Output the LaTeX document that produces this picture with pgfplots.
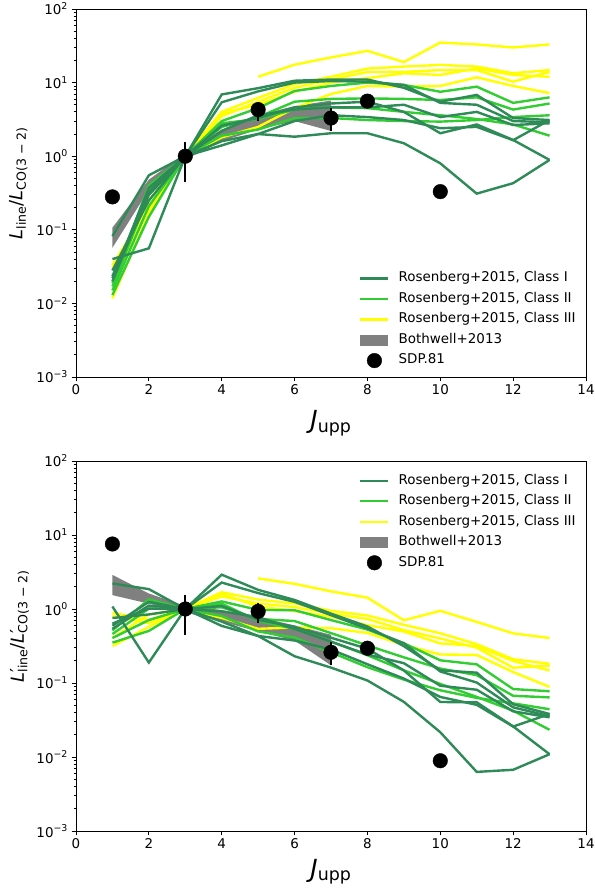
\documentclass[border=0pt]{standalone}
\usepackage{fontspec}
\setmainfont{DejaVu Sans}
\usepackage{pgfplots}
\usepackage{pgfplotstable}
\pgfplotsset{compat=1.18}

\definecolor{classI}{HTML}{2E8B57}
\definecolor{classII}{HTML}{32CD32}
\definecolor{classIII}{HTML}{FFFF00}
\definecolor{bandgray}{HTML}{808080}

\newcommand{\decade}[1]{10\textsuperscript{#1}}

% legend swatches: long line, filled patch, single centred dot
\pgfplotsset{
  long line legend/.style={legend image code/.code={\draw[##1] (0bp,0bp) -- (28bp,0bp);}},
  patch legend/.style={legend image code/.code={\fill[##1] (0bp,-5.5bp) rectangle (28bp,5.5bp);}},
  dot legend/.style={legend image code/.code={\draw[##1] plot coordinates {(14bp,0bp)};}},
}

% CO ladders normalised to CO(3-2): luminosity ratios L_line/L_CO(3-2)
% a* = Class I, b* = Class II, c* = Class III
\pgfplotstableread{
J  a1     a2    a3     a4    a5    a6    b1    b2    b3    b4    c1   c2    c3     c4    c5
1  0.040  0.082 0.0235 0.020 0.028 0.022 0.019 0.015 0.013 0.017 nan  0.033 0.0117 0.015 0.030
2  0.056  0.55  0.30   0.33  0.25  0.37  0.40  0.21  0.15  0.30  nan  0.21  0.17   0.25  0.19
3  1      1     1      1     1     1     1     1     1     1     nan  1     1      1     1
4  6.9    5.4   2.2    1.6   1.4   2.6   3.0   2.5   1.9   2.8   nan  4.0   3.5    3.8   1.8
5  8.4    7.6   3.6    2.0   2.0   3.3   4.5   3.4   2.3   3.2   12   6.2   5.5    5.0   2.5
6  10.6   10    4.3    3.0   1.84  4.6   7.7   5.5   3.3   4.3   17.5 9.5   8.5    7.5   4.5
7  11     10.5  4.6    3.6   2.05  5.2   9.0   6.0   3.3   4.6   22   12    11     10    7.0
8  11     10.3  4.6    3.4   2.05  5.5   10    6.1   3.1   4.5   27   15.5  13.9   11.5  9.0
9  8.5    9.3   5.0    3.1   1.5   4.0   9.3   6.0   3.0   4.0   19   16.5  14     13.4  8.8
10 5.5    5.3   3.4    2.4   0.8   2.05  7.5   5.8   2.95  3.6   35   17.4  14.8   12.7  9.0
11 6.8    5.0   4.0    2.5   0.31  2.7   8.8   6.3   3.1   3.2   33   16.5  14.8   15.6  11.8
12 3.3    3.0   2.65   1.65  0.43  1.66  5.3   4.3   3.4   2.7   30   13.4  10.3   12.7  9.0
13 3.1    2.9   2.8    3.1   0.89  0.89  6.3   5.2   3.6   1.9   33   14.8  14     12    7.2
}\lumdata

% the same ladders as brightness-temperature ratios L'_line/L'_CO(3-2)
\pgfplotstableread{
J  a1     a2     a3     a4     a5      a6     b1     b2     b3     b4     c1     c2     c3     c4     c5
1  1.08   2.214  0.6345 0.54   0.756   0.594  0.513  0.405  0.351  0.459  nan    0.891  0.3159 0.405  0.81
2  0.189  1.856  1.0125 1.114  0.844   1.249  1.35   0.709  0.506  1.0125 nan    0.709  0.574  0.844  0.641
3  1      1      1      1      1       1      1      1      1      1      nan    1      1      1      1
4  2.911  2.278  0.928  0.675  0.591   1.097  1.266  1.055  0.802  1.181  nan    1.688  1.477  1.603  0.759
5  1.814  1.642  0.778  0.432  0.432   0.713  0.972  0.734  0.497  0.691  2.592  1.339  1.188  1.08   0.54
6  1.325  1.25   0.5375 0.375  0.23    0.575  0.9625 0.6875 0.4125 0.5375 2.1875 1.1875 1.0625 0.9375 0.5625
7  0.866  0.8265 0.3621 0.2834 0.1614  0.4093 0.7085 0.4723 0.2598 0.3621 1.7318 0.9446 0.8659 0.7872 0.551
8  0.58   0.5432 0.2426 0.1793 0.1081  0.29   0.5273 0.3217 0.1635 0.2373 1.4238 0.8174 0.733  0.6064 0.4746
9  0.3148 0.3444 0.1852 0.1148 0.0556  0.1481 0.3444 0.2222 0.1111 0.1481 0.7037 0.6111 0.5185 0.4963 0.3259
10 0.1485 0.1431 0.0918 0.0648 0.0216  0.0554 0.2025 0.1566 0.0797 0.0972 0.945  0.4698 0.3996 0.3429 0.243
11 0.1379 0.1014 0.0811 0.0507 0.00629 0.0548 0.1785 0.1278 0.0629 0.0649 0.6694 0.3347 0.3002 0.3164 0.2394
12 0.0516 0.0469 0.0414 0.0258 0.00672 0.0259 0.0828 0.0672 0.0531 0.0422 0.4688 0.2094 0.1609 0.1984 0.1406
13 0.0381 0.0356 0.0344 0.0381 0.0109  0.0109 0.0774 0.0639 0.0442 0.0233 0.4055 0.1819 0.172  0.1475 0.0885
}\tbdata

% Bothwell+2013 range, outline: upper edge J=1..7, then lower edge J=7..1
\pgfplotstableread{
J y
1 0.107
2 0.48
3 1.1
4 2.3
5 3.6
6 4.8
7 5.7
7 2.2
6 3.0
5 2.3
4 1.6
3 0.9
2 0.35
1 0.057
}\lumband
\pgfplotstableread{
J y
1 2.889
2 1.62
3 1.1
4 0.970
5 0.778
6 0.6
7 0.449
7 0.173
6 0.375
5 0.497
4 0.675
3 0.9
2 1.181
1 1.539
}\tbband

% SDP.81 measurements
\pgfplotstableread{
J  v     ep    em
1  0.28  0     0
3  1     0.56  0.55
5  4.3   1.2   1.3
7  3.3   1.2   1.1
8  5.6   0     0
10 0.33  0     0
}\lumsdp
\pgfplotstableread{
J  v      ep     em
1  7.56   0      0
3  1      0.56   0.55
5  0.929  0.259  0.281
7  0.26   0.0945 0.0866
8  0.295  0      0
10 0.0089 0      0
}\tbsdp

\begin{document}
\begin{tikzpicture}
\useasboundingbox (0,0) rectangle (595bp,889bp);

% upper panel: luminosity ratios
\begin{axis}[
  ymode=log, scale only axis, width=510bp, height=368bp,
  at={(76bp,880bp)}, anchor=north west,
  xmin=0, xmax=14, ymin=1e-3, ymax=1e2,
  xtick={0,2,...,14},
  ytick={1e-3,1e-2,1e-1,1,1e1,1e2},
  yticklabels={\decade{−3},\decade{−2},\decade{−1},\decade{0},\decade{1},\decade{2}},
  xtick pos=bottom, ytick pos=left, tick align=outside,
  major tick length=4.5bp, minor tick length=2.5bp,
  axis line style={line width=0.8bp},
  tick style={black, line width=0.8bp},
  tick label style={font=\fontsize{13.5}{16}\selectfont},
  /pgf/number format/assume math mode=true,
  unbounded coords=jump,
  xlabel={\textit{J}\textsubscript{upp}},
  xlabel style={font=\fontsize{25}{30}\selectfont, anchor=north, inner sep=0pt,
    at={(axis description cs:0.5,-0.09)}},
  ylabel={\textit{L}\textsubscript{line}/\textit{L}\textsubscript{CO(3 − 2)}},
  ylabel style={font=\fontsize{18}{22}\selectfont, anchor=center, inner sep=0pt,
    at={(axis description cs:-0.113,0.527)}},
  legend cell align=left,
  legend style={draw=none, fill=none, inner sep=0pt, row sep=5bp, column sep=8bp,
    nodes={inner sep=1bp, text height=10bp, text depth=3.5bp},
    font=\fontsize{13.5}{16}\selectfont, anchor=north west, at={(0.555,0.289)}},
]
  \addplot[fill=bandgray, draw=none, forget plot] table[x=J, y=y] {\lumband};
  \pgfplotsinvokeforeach{c1,c2,c3,c4,c5}{\addplot[classIII, line width=2.4bp, mark=none, forget plot] table[x=J, y=#1] {\lumdata};}
  \pgfplotsinvokeforeach{b1,b2,b3,b4}{\addplot[classII, line width=2.4bp, mark=none, forget plot] table[x=J, y=#1] {\lumdata};}
  \pgfplotsinvokeforeach{a1,a2,a3,a4,a5,a6}{\addplot[classI, line width=2.4bp, mark=none, forget plot] table[x=J, y=#1] {\lumdata};}
  \addplot[only marks, mark=*, mark size=7.3bp, black, forget plot,
    error bars/y dir=both, error bars/y explicit, error bars/error mark=none,
    error bars/error bar style={line width=2.4bp, black}]
    table[x=J, y=v, y error plus=ep, y error minus=em] {\lumsdp};
  \addlegendimage{long line legend, classI, line width=2.4bp}
  \addlegendentry{Rosenberg+2015, Class I}
  \addlegendimage{long line legend, classII, line width=2.4bp}
  \addlegendentry{Rosenberg+2015, Class II}
  \addlegendimage{long line legend, classIII, line width=2.4bp}
  \addlegendentry{Rosenberg+2015, Class III}
  \addlegendimage{patch legend, fill=bandgray, draw=none}
  \addlegendentry{Bothwell+2013}
  \addlegendimage{dot legend, only marks, mark=*, mark size=7.3bp, black}
  \addlegendentry{SDP.81}
\end{axis}

% lower panel: brightness-temperature ratios
\begin{axis}[
  ymode=log, scale only axis, width=510bp, height=370bp,
  at={(76bp,428bp)}, anchor=north west,
  xmin=0, xmax=14, ymin=1e-3, ymax=1e2,
  xtick={0,2,...,14},
  ytick={1e-3,1e-2,1e-1,1,1e1,1e2},
  yticklabels={\decade{−3},\decade{−2},\decade{−1},\decade{0},\decade{1},\decade{2}},
  xtick pos=bottom, ytick pos=left, tick align=outside,
  major tick length=4.5bp, minor tick length=2.5bp,
  axis line style={line width=0.8bp},
  tick style={black, line width=0.8bp},
  tick label style={font=\fontsize{13.5}{16}\selectfont},
  /pgf/number format/assume math mode=true,
  unbounded coords=jump,
  xlabel={\textit{J}\textsubscript{upp}},
  xlabel style={font=\fontsize{25}{30}\selectfont, anchor=north, inner sep=0pt,
    at={(axis description cs:0.5,-0.075)}},
  ylabel={\textit{L}\rlap{′}\textsubscript{line}/\textit{L}\rlap{′}\textsubscript{CO(3 − 2)}},
  ylabel style={font=\fontsize{18}{22}\selectfont, anchor=center, inner sep=0pt,
    at={(axis description cs:-0.11,0.554)}},
  legend cell align=left,
  legend style={draw=none, fill=none, inner sep=0pt, row sep=5bp, column sep=8bp,
    nodes={inner sep=1bp, text height=10bp, text depth=3.5bp},
    font=\fontsize{13.5}{16}\selectfont, anchor=north west, at={(0.555,0.968)}},
]
  \addplot[fill=bandgray, draw=none, forget plot] table[x=J, y=y] {\tbband};
  \pgfplotsinvokeforeach{c1,c2,c3,c4,c5}{\addplot[classIII, line width=2.4bp, mark=none, forget plot] table[x=J, y=#1] {\tbdata};}
  \pgfplotsinvokeforeach{b1,b2,b3,b4}{\addplot[classII, line width=2.4bp, mark=none, forget plot] table[x=J, y=#1] {\tbdata};}
  \pgfplotsinvokeforeach{a1,a2,a3,a4,a5,a6}{\addplot[classI, line width=2.4bp, mark=none, forget plot] table[x=J, y=#1] {\tbdata};}
  \addplot[only marks, mark=*, mark size=7.3bp, black, forget plot,
    error bars/y dir=both, error bars/y explicit, error bars/error mark=none,
    error bars/error bar style={line width=2.4bp, black}]
    table[x=J, y=v, y error plus=ep, y error minus=em] {\tbsdp};
  \addlegendimage{long line legend, classI, line width=2.4bp}
  \addlegendentry{Rosenberg+2015, Class I}
  \addlegendimage{long line legend, classII, line width=2.4bp}
  \addlegendentry{Rosenberg+2015, Class II}
  \addlegendimage{long line legend, classIII, line width=2.4bp}
  \addlegendentry{Rosenberg+2015, Class III}
  \addlegendimage{patch legend, fill=bandgray, draw=none}
  \addlegendentry{Bothwell+2013}
  \addlegendimage{dot legend, only marks, mark=*, mark size=7.3bp, black}
  \addlegendentry{SDP.81}
\end{axis}
\end{tikzpicture}
\end{document}
